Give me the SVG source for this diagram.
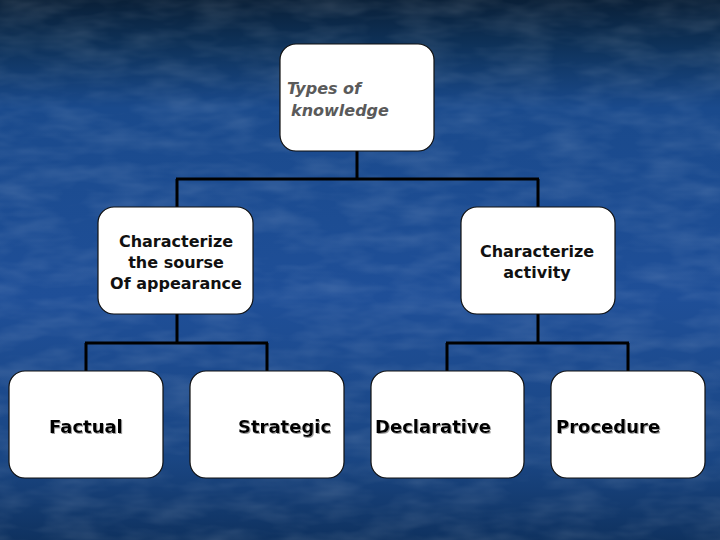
<svg xmlns="http://www.w3.org/2000/svg" width="720" height="540" viewBox="0 0 720 540">
<defs>
<linearGradient id="bg" x1="0" y1="0" x2="0" y2="1">
<stop offset="0" stop-color="#0a2038"/>
<stop offset="0.08" stop-color="#0e3158"/>
<stop offset="0.2" stop-color="#1a4a8c"/>
<stop offset="0.55" stop-color="#1f4f98"/>
<stop offset="0.85" stop-color="#1a4683"/>
<stop offset="1" stop-color="#0f3260"/>
</linearGradient>
<filter id="tex" x="0" y="0" width="100%" height="100%">
<feTurbulence type="fractalNoise" baseFrequency="0.02 0.06" numOctaves="3" seed="4"/>
<feColorMatrix type="matrix" values="0 0 0 0 1  0 0 0 0 1  0 0 0 0 1  0 0 0 -1.6 1.05"/>
</filter>
<filter id="sh" x="-10%" y="-20%" width="130%" height="150%">
<feDropShadow dx="1" dy="1" stdDeviation="0.4" flood-color="#888" flood-opacity="0.8"/>
</filter>
</defs>
<style>
.box{fill:#ffffff;stroke:#111111;stroke-width:1.2}
.ln{fill:none;stroke:#000000;stroke-width:3}
.mid{font-family:"DejaVu Sans",Verdana,sans-serif;font-size:16px;font-weight:bold;fill:#111111;text-anchor:middle}
.top{font-family:"DejaVu Sans",Verdana,sans-serif;font-size:16px;font-weight:bold;font-style:italic;fill:#5a5a5a}
.leaf{font-family:"DejaVu Sans",Verdana,sans-serif;font-size:18px;font-weight:bold;fill:#000000}
</style>
<rect width="720" height="540" fill="url(#bg)"/>
<rect width="720" height="540" filter="url(#tex)" opacity="0.12"/>
<g id="connectors">
<path class="ln" d="M357 151 V179 M176 179 H539 M177 179 V207 M538 179 V207"/>
<path class="ln" d="M177 314 V343 M85 343 H268 M86 343 V371 M267 343 V371"/>
<path class="ln" d="M538 314 V343 M446 343 H629 M447 343 V371 M628 343 V371"/>
</g>
<g id="types">
<rect class="box" x="280" y="44" width="154" height="107" rx="16"/>
<text class="top" x="287" y="94">Types of</text>
<text class="top" x="291" y="116">knowledge</text>
</g>
<g id="source">
<rect class="box" x="98" y="207" width="155" height="107" rx="16"/>
<text class="mid" x="176" y="247">Characterize</text>
<text class="mid" x="176" y="268">the sourse</text>
<text class="mid" x="176" y="289">Of appearance</text>
</g>
<g id="activity">
<rect class="box" x="461" y="207" width="154" height="107" rx="16"/>
<text class="mid" x="537" y="257">Characterize</text>
<text class="mid" x="537" y="278">activity</text>
</g>
<g id="factual">
<rect class="box" x="9" y="371" width="154" height="107" rx="16"/>
<text class="leaf" x="49" y="433" filter="url(#sh)">Factual</text>
</g>
<g id="strategic">
<rect class="box" x="190" y="371" width="154" height="107" rx="16"/>
<text class="leaf" x="238" y="433" filter="url(#sh)">Strategic</text>
</g>
<g id="declarative">
<rect class="box" x="371" y="371" width="153" height="107" rx="16"/>
<text class="leaf" x="375" y="433" filter="url(#sh)">Declarative</text>
</g>
<g id="procedure">
<rect class="box" x="551" y="371" width="154" height="107" rx="16"/>
<text class="leaf" x="556" y="433" filter="url(#sh)">Procedure</text>
</g>
</svg>
